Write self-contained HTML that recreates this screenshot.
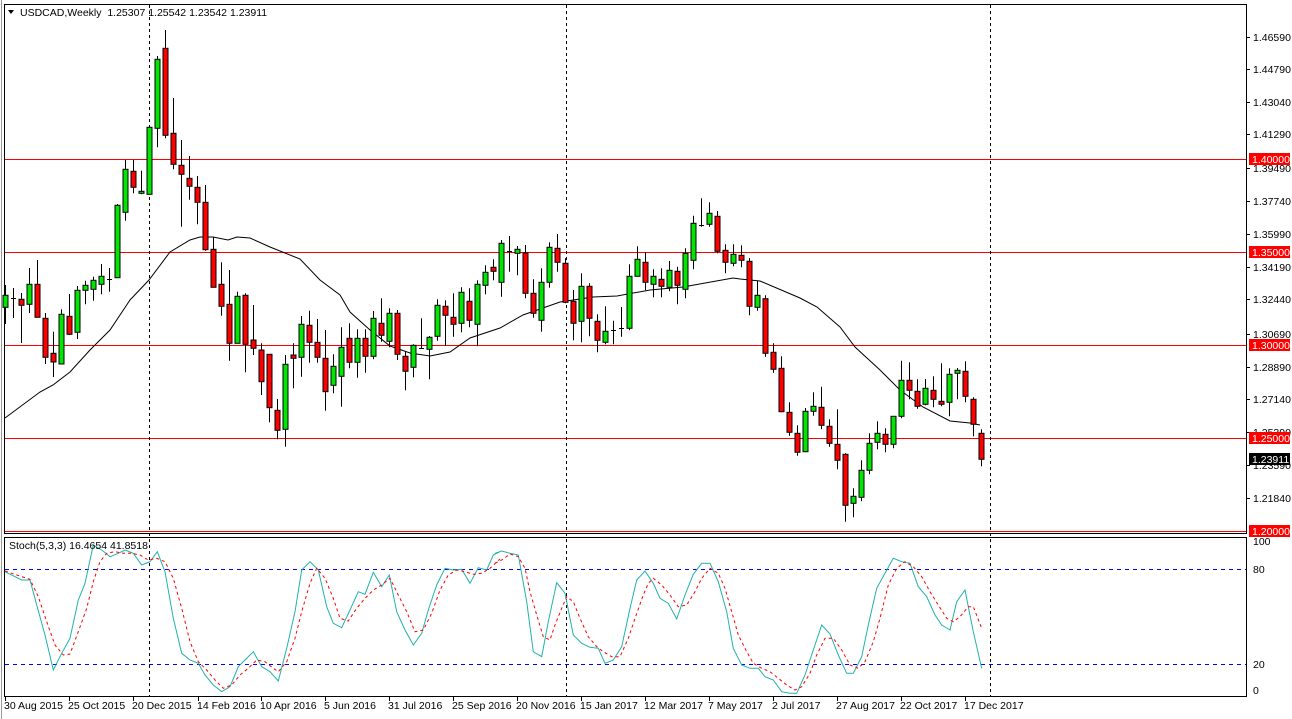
<!DOCTYPE html>
<html><head><meta charset="utf-8"><style>
html,body{margin:0;padding:0;background:#fff;width:1292px;height:719px;overflow:hidden}
svg{display:block}
text{font-family:"Liberation Sans",sans-serif;font-size:10.5px;fill:#000}
</style></head><body>
<svg id="s" width="1292" height="719" xmlns="http://www.w3.org/2000/svg"></svg>
<script>
var C=[
['G',295.3,307.3,285,324],['D',297.7,297.7,288,318],['R',299.3,305.3,293,343],['G',284.3,304.3,268,313],['R',284.3,317.3,260,317.3],
['R',318.3,357.3,313,364],['R',353.3,362,331.7,377],['G',314.3,364,309.3,364],['R',316.3,334.3,294,335],['G',290.3,332.3,286,339],
['G',285.3,290.3,280.7,304.3],['G',280.3,289.3,276.7,300.7],['G',276.3,284.3,264,294.3],['D',278.7,278.7,268,291.7],['G',205.3,277.7,204,278],
['G',169.3,212.3,160,220.7],['R',171.3,187.3,160,193.3],['G',191.3,193.3,170.7,194.3],['G',127.3,194.3,126,194.3],['G',59.3,128.3,56,147.3],
['R',48.3,135.3,30,138.3],['R',133.3,164.3,98,169.3],['R',165.3,174.3,140,226.7],['R',178.3,186.3,156,199.7],['R',187.3,202.3,176,224.3],
['R',202.3,249.7,185,250.7],['R',249.3,287.3,236.7,287.3],['R',284.3,306.3,262.3,315.7],['R',304.3,343.3,270,360.7],['G',296.3,343.3,291.7,343.3],
['R',295.3,344.3,293.3,372.3],['R',340,348.3,305,355],['R',350,381.7,343.3,395],['R',354.3,407.7,354.3,422.3],['R',410.3,430.3,399,439.3],
['G',364.3,429.3,355,446.7],['R',355,358.3,343.3,388.3],['G',324.3,357.3,316,376.7],['R',325.3,342.3,310.7,362.7],['R',342.3,357.3,319,362.7],
['R',358.3,391.7,330,410.7],['G',366.3,385.3,354.3,393.3],['G',347.3,376.3,327.3,406.7],['R',338.3,362.3,323.3,368.3],['G',338.3,362.3,329.3,377.7],
['R',338.3,356.3,329.3,372.7],['G',318.3,356.3,311,359.3],['R',323.3,335.3,298.3,341.7],['G',313.3,341.3,308.3,347.3],['R',313.3,354.3,310,360],
['R',356.3,371.3,351.7,390.3],['G',345.3,367.3,344.3,377.3],['D',348.3,348.3,318.3,348.3],['G',337.3,349.3,336,379.3],['G',305.3,336.3,299.3,340.7],
['R',306.3,315.3,300.3,346],['R',317.3,324.3,293.3,336.7],['G',292.3,323.3,287.3,332.3],['R',301.3,320.3,288.3,327.3],['G',284.3,324.3,280.3,346.3],
['G',272.3,285.3,265.3,294.3],['R',267.3,271.3,259.3,280.3],['G',243.3,282.3,240,296.7],['D',251.3,251.3,236,271.7],['G',249.3,253.3,246,275.3],
['R',253,293.3,245,298.3],['R',293.3,313.3,279.3,317.7],['G',282.3,320.3,268.3,331.7],['G',247.3,282.3,242.3,287.7],['R',248.3,262.3,234,271.7],
['R',263.3,302.3,258.3,303.3],['R',301.3,323.3,290,340.3],['G',286.3,321.3,273.3,342.3],['R',286.3,318.3,283.3,336.3],['R',321.3,340.3,314.3,352.3],
['G',331.3,342.3,306.3,344.3],['D',330,330,320.7,344.3],['D',327.7,327.7,307,336.7],['G',276.3,328.3,264.3,330.3],['G',259.3,276.3,246.3,276.3],
['R',262.3,282.3,252.3,290.3],['G',276.3,284.3,269.3,297.3],['R',279.3,286.3,268.3,297.3],['G',270.3,287.3,261,291.3],['R',271.3,285.3,266.7,304.3],
['G',253.3,289.3,248.3,298.3],['G',223.3,260.3,215.7,269.3],['D',224.7,224.7,198.3,226.7],['G',213.3,224.3,202.3,226.7],['R',216.3,251.3,211,253.3],
['R',250.3,262.3,244.3,273.3],['G',254.3,263.3,244.3,266.3],['R',255.3,260.3,245.3,267.3],['R',261.3,306.3,258,315.3],['G',295.3,307.3,280.7,310.7],
['R',298.7,353.3,295.3,356.7],['R',352.3,369.3,343.3,372.7],['R',368.3,411.7,356.3,412.3],['R',412.3,432.3,402.3,435.7],['R',433.3,452.3,425.3,455.7],
['G',411.3,451.7,408,452.3],['G',406.3,411.3,392.3,415.7],['R',407.3,425.3,386.7,429.3],['R',426.3,443.3,419.3,446.7],['R',444.3,460.3,409.3,469.3],
['R',454.3,505.3,453.3,521.7],['G',496.3,503.3,488.3,517.3],['G',470.3,497.3,460.3,501.3],['G',443.3,470.3,433.3,474.3],['G',433.3,442.3,421.3,449.3],
['R',434.3,444.3,428.3,452.3],['G',416.3,444.3,416,448.3],['G',380.3,416.3,360.7,418.3],['R',380.3,390.3,362.3,399.3],['R',391.3,406.3,379.3,408.7],
['G',388.3,404.3,379,405.3],['R',390.3,399.3,376.3,407.3],['R',401.3,404.3,363.3,406.3],['G',374.3,402.3,368.3,416.3],['G',370.3,373.3,368,399.3],
['R',371.3,396.3,361.3,402.3],['R',399.3,424.3,397.3,436.3],['R',433.3,459.3,429.3,466.3]];
var ma=[[5,418],[40,392],[53,385],[70,372],[90,350],[110,330],[130,300],[149,280],[170,252],[190,240],[200,237],[213,237],[228,240],[237,237],[250,238],[270,247],[300,259],[320,280],[340,295],[350,312],[370,330],[390,346],[410,353],[430,356],[450,352],[470,338],[500,328],[523,315],[560,302],[593,297],[617,296],[650,290],[683,287],[733,278],[740,279],[760,281],[800,298],[817,307],[840,327],[855,347],[880,370],[900,390],[923,407],[950,421],[970,423],[980,425]];
var t1=[[15,110],[65,135],[90,135],[110,210],[135,300],[160,405],[185,355],[210,310],[235,195],[255,145],[280,30],[305,45],[330,65],[355,55],[375,45],[400,55],[425,90],[450,80],[472,50],[495,110],[520,250],[545,355],[570,375],[595,385],[615,420],[640,450],[665,470],[690,455],[715,395],[735,375],[760,350],[785,395],[810,410],[835,438],[860,340],[885,230],[905,105],[930,80],[955,105],[980,215],[1000,265],[1025,278],[1050,225],[1075,170],[1095,178],[1120,112],[1145,155],[1168,120],[1190,230],[1215,285],[1240,330],[1265,295],[1285,225],[1310,150],[1335,100],[1360,105],[1385,103],[1410,145],[1435,98],[1460,105],[1480,60],[1500,50]];
var r1=[[15,108],[50,120],[90,133],[115,185],[140,260],[165,330],[190,360],[210,357],[235,290],[260,220],[280,140],[300,80],[320,55],[345,50],[370,55],[395,55],[420,60],[445,75],[470,70],[495,80],[520,130],[545,220],[570,320],[595,380],[620,405],[645,435],[670,460],[695,450],[720,420],[745,400],[770,375],[795,380],[820,400],[835,410],[860,380],[885,310],[905,230],[930,145],[950,100],[975,130],[1000,190],[1020,250],[1045,258],[1070,220],[1095,190],[1120,165],[1145,150],[1170,130],[1195,180],[1220,230],[1245,290],[1270,285],[1295,235],[1320,165],[1345,120],[1370,105],[1395,110],[1420,118],[1445,115],[1470,100],[1500,72]];
var t2=[[0,55],[20,48],[45,55],[70,60],[95,200],[115,350],[140,365],[160,260],[185,143],[210,175],[235,300],[260,325],[285,337],[310,340],[330,385],[355,375],[380,335],[405,220],[425,135],[450,108],[475,145],[495,190],[520,205],[545,252],[570,180],[595,118],[620,85],[645,85],[670,140],[695,230],[715,340],[740,390],[765,400],[790,400],[810,425],[835,435],[860,470],[885,475],[905,475],[930,420],[955,345],[980,270],[1005,297],[1030,360],[1055,415],[1075,415],[1100,365],[1120,270],[1145,160],[1170,115],[1195,70],[1220,80],[1245,85],[1270,155],[1295,185],[1320,240],[1340,270],[1365,285],[1385,200],[1410,165],[1435,290],[1460,400]];
var r2=[[0,85],[20,75],[45,57],[70,65],[90,100],[105,170],[125,240],[145,305],[165,315],[180,270],[200,220],[215,185],[235,200],[255,250],[280,305],[305,335],[325,350],[350,365],[375,365],[400,310],[420,250],[445,180],[460,145],[475,130],[500,150],[525,180],[550,215],[575,210],[600,170],[620,130],[645,100],[670,115],[690,160],[710,230],[730,300],[755,350],[775,385],[800,400],[825,410],[850,430],[875,450],[900,465],[920,455],[945,415],[965,360],[990,310],[1015,310],[1040,345],[1065,390],[1090,400],[1110,380],[1135,320],[1155,250],[1180,150],[1205,100],[1230,80],[1255,95],[1280,125],[1305,170],[1330,210],[1355,250],[1375,260],[1395,245],[1420,215],[1435,215],[1460,280]];
var h='';
function L(x1,y1,x2,y2,c,extra){h+='<line x1="'+x1+'" y1="'+y1+'" x2="'+x2+'" y2="'+y2+'" stroke="'+c+'" stroke-width="1" '+(extra||'')+'/>';}
function T(x,y,s,a,f){h+='<text x="'+x+'" y="'+y+'"'+(a?' text-anchor="'+a+'"':'')+(f?' style="fill:'+f+'"':'')+'>'+s+'</text>';}
// frames
h+='<rect x="4.5" y="4.5" width="1242" height="529" fill="none" stroke="#000"/>';
h+='<rect x="4.5" y="537.5" width="1242" height="159" fill="none" stroke="#000"/>';
L(1.5,0,1.5,719,'#999');
// horizontal levels
[159.5,252.5,345.5,438.5,531.5].forEach(function(y){L(5,y,1246,y,'#f00');});
// period separators
[149.5,566.5,990.5].forEach(function(x){L(x,5,x,697,'#000','stroke-dasharray="3,3"');});
// stoch levels
L(5,569.5,1246,569.5,'#00f','stroke-dasharray="4,4"');L(5,664.5,1246,664.5,'#00f','stroke-dasharray="4,4"');
// MA
h+='<polyline fill="none" stroke="#000" stroke-width="1" points="'+ma.map(function(p){return p.join(',')}).join(' ')+'"/>';
// candles
C.forEach(function(c,i){var x=5+8*i,t=Math.min(c[1],c[2]),b=Math.max(c[1],c[2]);
 L(x+0.5,c[3],x+0.5,c[4],'#000');
 if(c[0]=='D'){L(x-2,Math.round(t)+0.5,x+3,Math.round(t)+0.5,'#000','stroke-width="2"');}
 else h+='<rect x="'+(x-2)+'" y="'+t+'" width="5" height="'+Math.max(1,b-t)+'" fill="'+(c[0]=='G'?'#00e600':'#f00')+'" stroke="#000" stroke-width="1"/>';
});
function PL(arr,ox,col,dash){h+='<polyline fill="none" stroke="'+col+'" stroke-width="1" '+(dash?'stroke-dasharray="3,3"':'')+' points="'+arr.map(function(p){return (ox+p[0]/3).toFixed(1)+','+(535+p[1]/3).toFixed(1)}).join(' ')+'"/>';}
PL(t1,0,'#20b2aa');PL(t2,495,'#20b2aa');PL(r1,0,'#f00',1);PL(r2,495,'#f00',1);
// price axis
var pl=[[37,'1.46590'],[69,'1.44790'],[102,'1.43040'],[134,'1.41290'],[168,'1.39490'],[201,'1.37740'],[234,'1.35990'],[267,'1.34190'],[299,'1.32440'],[334,'1.30690'],[367,'1.28890'],[399,'1.27140'],[432,'1.25390'],[465,'1.23590'],[498,'1.21840']];
pl.forEach(function(p){L(1247,p[0]+0.5,1250,p[0]+0.5,'#000');T(1253,p[0]+4,p[1]);});
[[159,'1.40000','#f00'],[252,'1.35000','#f00'],[345,'1.30000','#f00'],[438,'1.25000','#f00'],[459,'1.23911','#000'],[531,'1.20000','#f00']].forEach(function(p){
 h+='<rect x="1249" y="'+(p[0]-6)+'" width="41" height="12" fill="'+p[2]+'"/>';T(1252,p[0]+4,p[1],null,'#fff');});
[[541,'100'],[569,'80'],[664,'20'],[690,'0']].forEach(function(p){T(1253,p[0]+4,p[1]);});
// time axis
var tl=[[5,'30 Aug 2015'],[69,'25 Oct 2015'],[133,'20 Dec 2015'],[198,'14 Feb 2016'],[261,'10 Apr 2016'],[325,'5 Jun 2016'],[389,'31 Jul 2016'],[453,'25 Sep 2016'],[517,'20 Nov 2016'],[581,'15 Jan 2017'],[645,'12 Mar 2017'],[709,'7 May 2017'],[773,'2 Jul 2017'],[837,'27 Aug 2017'],[901,'22 Oct 2017'],[965,'17 Dec 2017']];
tl.forEach(function(p){L(p[0]+0.5,697,p[0]+0.5,701,'#000');T(p[0]+(p[0]==5?-1:-1),709,p[1]);});
// labels
h+='<polygon points="8,10 14,10 11,14" fill="#000"/>';
T(20,16,'USDCAD,Weekly&#160;&#160;1.25307 1.25542 1.23542 1.23911');
T(9,549,'Stoch(5,3,3) 16.4654 41.8518');
document.getElementById('s').innerHTML=h;
</script>
</body></html>
